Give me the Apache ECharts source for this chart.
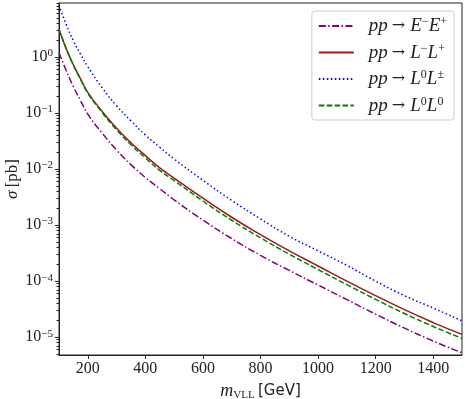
<!DOCTYPE html>
<html lang="en">

<head>
    <meta charset="UTF-8">
    <title>VLL cross sections</title>
    <style>
        html,
        body,
        #chart {
            width: 465px;
            height: 399px;
            margin: 0;
            padding: 0;
            background: #fff;
        }
    </style>
</head>

<body>
    <div id="chart"></div>

    <script src="https://cdn.jsdelivr.net/npm/echarts@6/dist/echarts.min.js"></script>
    <script>
        // mass points [GeV]
        var masses = [100, 125, 150, 175, 200, 250, 300, 350, 400, 450, 500, 600, 700, 800, 900, 1000, 1100, 1200, 1300, 1400, 1500];

        // cross sections [pb]
        var sigmaEE = [1.20, 0.575, 0.295, 0.166, 0.0955, 0.0437, 0.0219, 0.0120, 7.08e-3, 4.47e-3, 2.82e-3, 1.23e-3, 5.75e-4, 2.88e-4, 1.55e-4, 8.51e-5, 4.68e-5, 2.57e-5, 1.45e-5, 8.51e-6, 5.25e-6];
        var sigmaLL = [3.09, 1.41, 0.724, 0.407, 0.234, 0.107, 0.0537, 0.0295, 0.0174, 0.0105, 6.92e-3, 3.02e-3, 1.38e-3, 6.76e-4, 3.47e-4, 1.86e-4, 1.0e-4, 5.5e-5, 3.09e-5, 1.82e-5, 1.12e-5];
        var sigmaL0Lpm = [8.32, 3.80, 1.95, 1.12, 0.676, 0.282, 0.135, 0.0724, 0.0407, 0.0245, 0.0151, 6.31e-3, 2.75e-3, 1.29e-3, 6.31e-4, 3.47e-4, 1.91e-4, 1.0e-4, 5.5e-5, 3.31e-5, 1.95e-5];
        var sigmaL0L0 = [3.16, 1.41, 0.716, 0.398, 0.226, 0.102, 0.0501, 0.0272, 0.0158, 9.44e-3, 6.24e-3, 2.69e-3, 1.22e-3, 5.92e-4, 3.02e-4, 1.61e-4, 8.63e-5, 4.72e-5, 2.64e-5, 1.55e-5, 9.5e-6];

        var xTicks = [200, 400, 600, 800, 1000, 1200, 1400];
        var yTicks = [1e-5, 1e-4, 1e-3, 1e-2, 1e-1, 1];

        var yMin = 4.8e-6,
            yMax = 9.2;

        // minor log ticks 2..9 x 10^n
        var yMinor = [];
        for (var n = -6; n <= 0; n++) {
            for (var k = 2; k <= 9; k++) {
                var v = k * Math.pow(10, n);
                if (v > yMin && v < yMax) yMinor.push(v);
            }
        }

        var serif = 'Liberation Serif';
        var ink = '#222';

        var legendText = {
            'EE': '{i|pp}{r|→}{i|E}{s|−}{i|E}{s|+}',
            'LL': '{i|pp}{r|→}{i|L}{s|−}{i|L}{s|+}',
            'L0Lpm': '{i|pp}{r|→}{i|L}{s|0}{i|L}{s|±}',
            'L0L0': '{i|pp}{r|→}{i|L}{s|0}{i|L}{s|0}'
        };

        function pairs(ys) {
            return masses.map(function(m, i) {
                return [m, ys[i]];
            });
        }

        function makeSeries(name, ys, color, dash) {
            return {
                name: name,
                type: 'line',
                data: pairs(ys),
                symbol: 'none',
                smooth: 0.5,
                lineStyle: {
                    color: color,
                    width: 1.5,
                    type: dash
                },
                itemStyle: {
                    color: color
                }
            };
        }

        var chart = echarts.init(document.getElementById('chart'));
        chart.setOption({
            animation: false,
            grid: {
                left: 59,
                right: 3,
                top: 3,
                bottom: 44,
                outerBoundsMode: 'none',
                containLabel: false,
                show: true,
                borderColor: ink,
                borderWidth: 1
            },
            legend: {
                orient: 'vertical',
                right: 11,
                top: 11,
                padding: [5, 7, 5, 6],
                itemGap: 7,
                itemWidth: 35,
                itemHeight: 14,
                itemStyle: {
                    opacity: 0
                },
                backgroundColor: 'rgba(255,255,255,0.8)',
                borderColor: '#ccc',
                borderWidth: 1,
                borderRadius: 3,
                data: ['EE', 'LL', 'L0Lpm', 'L0L0'],
                formatter: function(name) {
                    return legendText[name];
                },
                textStyle: {
                    color: ink,
                    padding: [0, 0, 0, 10],
                    rich: {
                        i: {
                            fontFamily: serif,
                            fontStyle: 'italic',
                            fontSize: 19,
                            lineHeight: 20,
                            color: ink
                        },
                        r: {
                            fontFamily: 'DejaVu Serif',
                            fontSize: 16,
                            lineHeight: 20,
                            padding: [0, 5, 0, 4],
                            color: ink
                        },
                        s: {
                            fontFamily: serif,
                            fontSize: 12,
                            lineHeight: 12,
                            verticalAlign: 'top',
                            color: ink
                        }
                    }
                }
            },
            xAxis: {
                type: 'value',
                min: 100,
                max: 1500,
                name: '{i|m}{sub|VLL} {g|[GeV]}',
                nameLocation: 'middle',
                nameGap: 24,
                nameTextStyle: {
                    rich: {
                        i: { fontFamily: serif, fontStyle: 'italic', fontSize: 18, lineHeight: 20, color: ink },
                        sub: { fontFamily: serif, fontSize: 11, lineHeight: 10, verticalAlign: 'bottom', color: ink },
                        g: { fontFamily: 'DejaVu Sans', fontSize: 15, lineHeight: 20, color: ink }
                    }
                },
                axisLine: { lineStyle: { color: ink } },
                axisTick: { length: 4, lineStyle: { color: ink }, customValues: xTicks },
                axisLabel: {
                    customValues: xTicks,
                    formatter: function(v) {
                        return String(v);
                    },
                    fontFamily: serif,
                    fontSize: 16,
                    color: ink,
                    margin: 6
                },
                splitLine: { show: false }
            },
            yAxis: [{
                type: 'log',
                min: yMin,
                max: yMax,
                name: '{i|σ} {r|[pb]}',
                nameLocation: 'middle',
                nameGap: 38,
                nameMoveOverlap: false,
                nameRotate: 90,
                nameTextStyle: {
                    rich: {
                        i: { fontFamily: serif, fontStyle: 'italic', fontSize: 17, color: ink },
                        r: { fontFamily: serif, fontSize: 17, color: ink }
                    }
                },
                axisLine: { show: true, lineStyle: { color: ink } },
                axisTick: { length: 4, lineStyle: { color: ink }, customValues: yTicks },
                axisLabel: {
                    customValues: yTicks,
                    margin: 6,
                    formatter: function(v) {
                        var e = Math.round(Math.log10(v));
                        return '{b|10}{s|' + (e < 0 ? '−' + (-e) : e) + '}';
                    },
                    rich: {
                        b: { fontFamily: serif, fontSize: 16, lineHeight: 18, color: ink },
                        s: { fontFamily: serif, fontSize: 11, lineHeight: 10, verticalAlign: 'top', color: ink }
                    }
                },
                splitLine: { show: false }
            }, {
                type: 'log',
                min: yMin,
                max: yMax,
                position: 'left',
                axisLine: { show: true, lineStyle: { color: ink } },
                axisTick: { show: true, length: 2.5, lineStyle: { color: ink }, customValues: yMinor },
                axisLabel: { show: false },
                splitLine: { show: false }
            }],
            series: [
                makeSeries('EE', sigmaEE, '#800080', [7, 2.4, 1.5, 2.4]),
                makeSeries('LL', sigmaLL, '#9b1a1a', 'solid'),
                makeSeries('L0Lpm', sigmaL0Lpm, '#0000ff', [1.5, 2.5]),
                makeSeries('L0L0', sigmaL0L0, '#008000', [5.5, 2.4])
            ]
        });
    </script>
</body>

</html>
